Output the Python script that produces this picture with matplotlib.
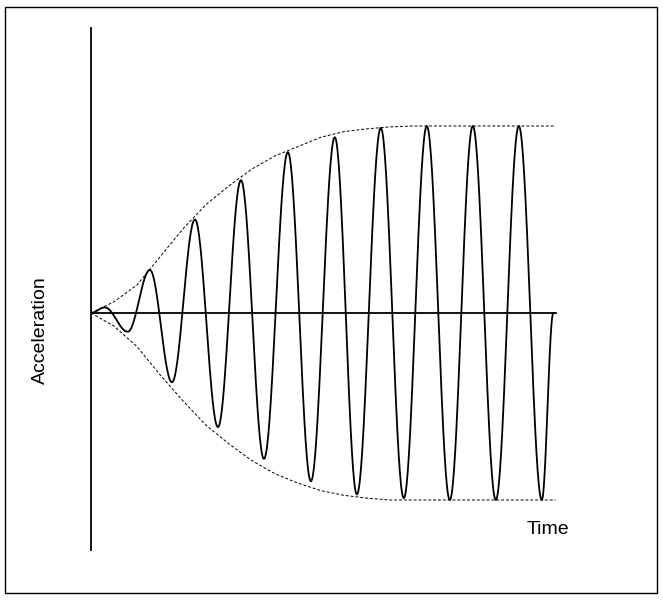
import numpy as np
import matplotlib
matplotlib.use('Agg')
import matplotlib.pyplot as plt
from matplotlib.patches import Rectangle

# extrema of the oscillation (time in cycles, normalised amplitude)
ext_t = [0.0, 0.3, 0.8, 1.28, 1.76, 2.26, 2.76, 3.26, 3.76, 4.28, 4.78,
         5.3, 5.78, 6.3, 6.8, 7.3, 7.8, 8.3, 8.8, 9.3, 9.8, 10.05]
ext_a = [0.0, 0.03, -0.10, 0.23, -0.37, 0.50, -0.61, 0.71, -0.78, 0.86, -0.90,
         0.94, -0.97, 0.99, -0.99, 1.0, -1.0, 1.0, -1.0, 1.0, -1.0, 0.0]

# dashed envelopes
env_t = [0.0, 0.5, 1.0, 1.5, 2.0, 2.5, 3.0, 3.5, 4.0, 4.5, 5.0, 5.5, 6.0, 6.5, 7.0, 7.5, 8.0, 10.1]
env_top = [0.0, 0.06, 0.15, 0.30, 0.45, 0.58, 0.68, 0.77, 0.84, 0.89, 0.94, 0.97, 0.985, 0.995, 1.0, 1.0, 1.0, 1.0]
env_bot = [0.0, -0.07, -0.18, -0.33, -0.47, -0.60, -0.70, -0.79, -0.86, -0.91, -0.95, -0.975, -0.99, -1.0, -1.0, -1.0, -1.0, -1.0]

W, H = 663, 600
fig = plt.figure(figsize=(W / 100, H / 100), dpi=100)
fig.patches.append(Rectangle((5 / W, 7 / H), 652 / W, 586 / H, transform=fig.transFigure,
                             fill=False, edgecolor='black', linewidth=1.0))

ax = fig.add_axes([91 / W, 1 - 550 / H, (600 - 91) / W, (550 - 28) / H])
ax.set_xlim(0, (600 - 91) / 46)
ax.set_ylim((313 - 550) / 187, (313 - 28) / 187)

# smooth half-cosine segments between the read extrema
xs, ys = [], []
for i in range(len(ext_t) - 1):
    s = np.linspace(0, 1, 40)
    xs.extend(ext_t[i] + (ext_t[i + 1] - ext_t[i]) * s)
    ys.extend(ext_a[i] + (ext_a[i + 1] - ext_a[i]) * (1 - np.cos(np.pi * s)) / 2)
ax.plot(xs, ys, color='black', linewidth=1.3)

ax.plot(env_t, env_top, color='black', linestyle=(0, (3, 2)), linewidth=0.7)
ax.plot(env_t, env_bot, color='black', linestyle=(0, (3, 2)), linewidth=0.7)
ax.plot([0, 10.1], [0, 0], color='black', linewidth=1.3)

for side in ['top', 'right', 'bottom']:
    ax.spines[side].set_visible(False)
ax.spines['left'].set_linewidth(1.3)
ax.set_xticks([])
ax.set_yticks([])

fig.text(40 / W, 1 - 330 / H, 'Acceleration', rotation=90, ha='center', va='center',
         fontsize=14, family='Liberation Sans')
fig.text(548 / W, 1 - 530 / H, 'Time', ha='center', va='center',
         fontsize=14, family='Liberation Sans')

fig.savefig('out.png', dpi=100)
